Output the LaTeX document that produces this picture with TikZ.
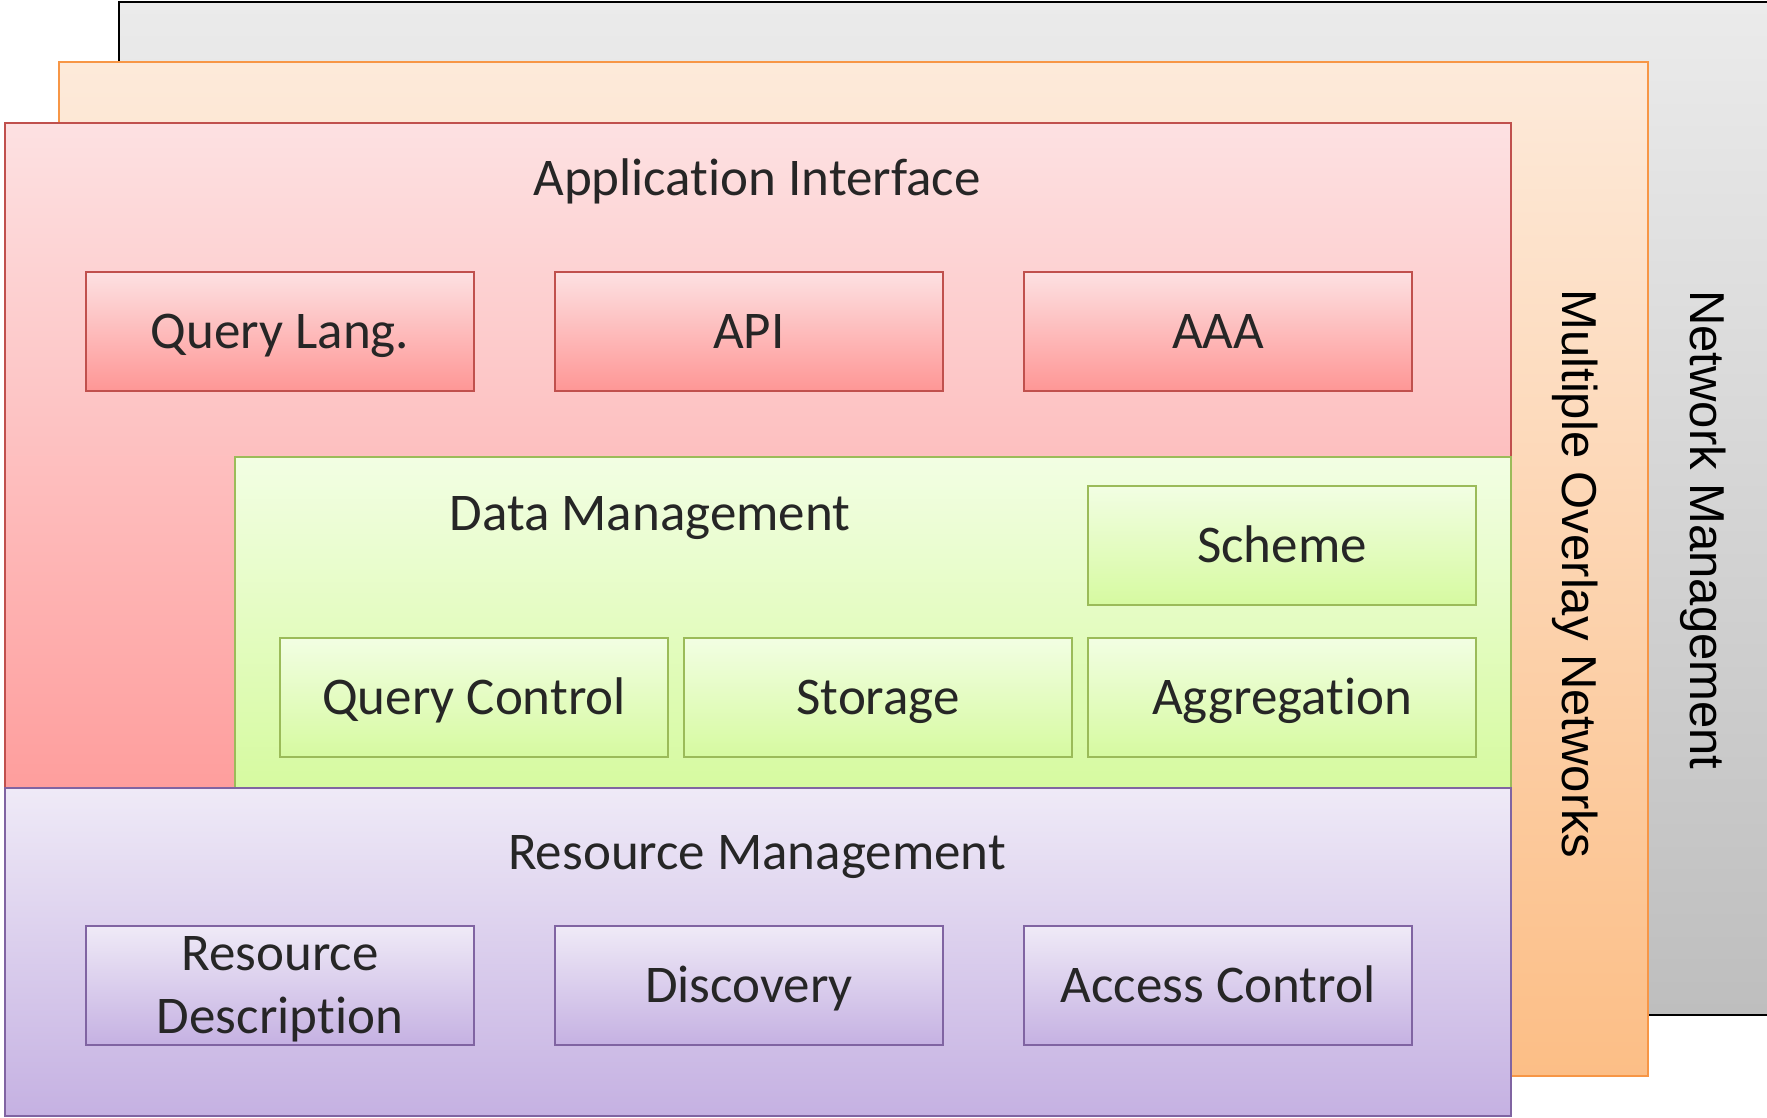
\documentclass[tikz,border=0pt]{standalone}
\usepackage{fontspec}
\setmainfont{Carlito}[Ligatures={NoCommon}]
\newfontfamily\sidefont{Liberation Sans}
\usetikzlibrary{positioning}

\definecolor{greytop}{HTML}{EBEBEB}
\definecolor{greybot}{HTML}{BEBEBE}
\definecolor{ovltop}{HTML}{FDEADA}
\definecolor{ovlbot}{HTML}{FCBE86}
\definecolor{ovlline}{HTML}{F79646}
\definecolor{apptop}{HTML}{FDE1E2}
\definecolor{appbot}{HTML}{FE9E9D}
\definecolor{appline}{HTML}{C0504D}
\definecolor{datatop}{HTML}{F2FEE3}
\definecolor{databot}{HTML}{D6FAA0}
\definecolor{dataline}{HTML}{9BBB59}
\definecolor{restop}{HTML}{EFEAF7}
\definecolor{resbot}{HTML}{C5B1E2}
\definecolor{resline}{HTML}{8064A2}
\definecolor{ink}{HTML}{262626}

\tikzset{
  layer/.style={line width=2pt},
  block/.style={rectangle, draw, line width=2pt, minimum width=388pt, minimum height=119pt,
    inner sep=0pt, outer sep=0pt, text=ink, text height=33.5pt, text depth=0pt,
    font=\fontsize{53pt}{63pt}\selectfont},
  appblock/.style={block, draw=appline, top color=apptop, bottom color=appbot!95!red},
  datablock/.style={block, draw=dataline, top color=datatop, bottom color=databot},
  resblock/.style={block, draw=resline, top color=restop, bottom color=resbot},
  title/.style={anchor=base, text=ink, font=\fontsize{53pt}{63pt}\selectfont},
  side/.style={anchor=base, rotate=-90, text=black, font=\sidefont\fontsize{49pt}{58pt}\selectfont}
}

\begin{document}
\begin{tikzpicture}[x=1pt, y=-1pt, node distance=81pt]
  \useasboundingbox (0,0) rectangle (1767,1117);

  \path[layer, draw=black, top color=greytop, bottom color=greybot] (119,2) rectangle (1790,1015);
  \path[layer, draw=ovlline, top color=ovltop, bottom color=ovlbot] (59,62) rectangle (1648,1076);
  \path[layer, draw=appline, top color=apptop, bottom color=appbot] (5,123) rectangle (1511,788);
  \path[layer, draw=dataline, top color=datatop, bottom color=databot] (235,457) rectangle (1511,788);
  \path[layer, draw=resline, top color=restop, bottom color=resbot] (5,788) rectangle (1511,1116);

  \node[title] (apptitle) at (757,195) {Application Interface};
  \node[appblock] (querylang) at (280,331.5) {Query Lang.};
  \node[appblock, right=of querylang] (api) {API};
  \node[appblock, right=of api] (aaa) {AAA};

  \node[title] (datatitle) at (650,530) {Data Management};
  \node[datablock] (querycontrol) at (474,697.5) {Query Control};
  \node[datablock, right=16pt of querycontrol] (storage) {Storage};
  \node[datablock, right=16pt of storage] (aggregation) {Aggregation};
  \node[datablock, above=33pt of aggregation] (scheme) {Scheme};

  \node[title] (restitle) at (757,869) {Resource Management};
  \node[resblock, text depth=63pt] (description) at (280,985.5)
    {\begin{tabular}[t]{@{}c@{}}Resource\\Description\end{tabular}};
  \node[resblock, right=of description] (discovery) {Discovery};
  \node[resblock, right=of discovery] (access) {Access Control};

  \node[side] (overlay) at (1562,574) {Multiple Overlay Networks};
  \node[side] (netmgmt) at (1690,530) {Network Management};
\end{tikzpicture}
\end{document}
